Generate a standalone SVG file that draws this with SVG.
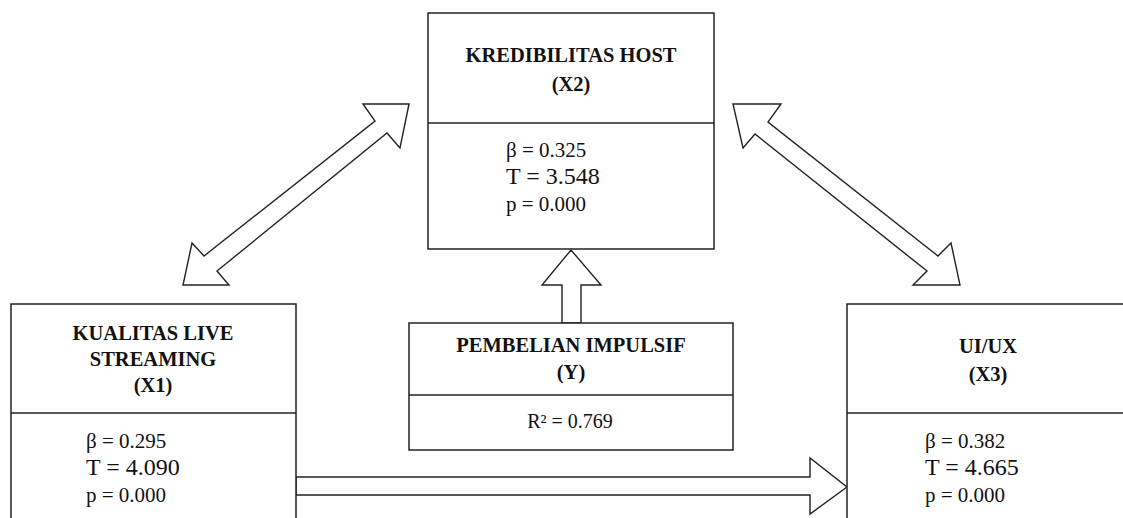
<svg xmlns="http://www.w3.org/2000/svg" width="1123" height="518" viewBox="0 0 1123 518">
<style>
.box{fill:#fff;stroke:#222;stroke-width:1.5}
.div{stroke:#222;stroke-width:1.5}
.arr{fill:#fff;stroke:#222;stroke-width:1.4;stroke-linejoin:miter}
.t{font-family:"Liberation Serif","Times New Roman",serif;font-weight:bold;font-size:20.5px;fill:#111;text-anchor:middle}
.v{font-family:"Liberation Serif","Times New Roman",serif;font-size:21px;fill:#111}
.vt{font-family:"Liberation Serif","Times New Roman",serif;font-size:24px;fill:#111}
</style>
<rect width="1123" height="518" fill="#fff"/>
<g id="connectors">
<polygon class="arr" points="409,104 400,148 387,133 217,271 229,285 183,285 192,243 204,256 375,121 363,104"/>
<polygon class="arr" points="733,104 781,104 768,122 938,256 951,243 960,285 913,285 927,271 755,134 743,148"/>
<polygon class="arr" points="562,323 562,285 542,285 571,250 601,285 581,285 581,323"/>
<polygon class="arr" points="296,477 810,477 810,458 847,487 810,514 810,495 296,495"/>
</g>
<g id="X2">
<rect class="box" x="428" y="13" width="286" height="236"/>
<line class="div" x1="428" y1="123" x2="714" y2="123"/>
<text class="t" x="571" y="62">KREDIBILITAS HOST</text>
<text class="t" x="571" y="91">(X2)</text>
<text class="v" x="506" y="157">β = 0.325</text>
<text class="vt" x="506" y="184">T = 3.548</text>
<text class="v" x="506" y="211">p = 0.000</text>
</g>
<g id="X1">
<rect class="box" x="11" y="304" width="285" height="230"/>
<line class="div" x1="11" y1="413" x2="296" y2="413"/>
<text class="t" x="153" y="340">KUALITAS LIVE</text>
<text class="t" x="153" y="366">STREAMING</text>
<text class="t" x="153" y="392">(X1)</text>
<text class="v" x="86" y="448">β = 0.295</text>
<text class="vt" x="86" y="475">T = 4.090</text>
<text class="v" x="86" y="502">p = 0.000</text>
</g>
<g id="Y">
<rect class="box" x="409" y="323" width="324" height="127"/>
<line class="div" x1="409" y1="395" x2="733" y2="395"/>
<text class="t" x="571" y="352">PEMBELIAN IMPULSIF</text>
<text class="t" x="571" y="379">(Y)</text>
<text class="v" x="570" y="428" text-anchor="middle" style="font-size:20px">R² = 0.769</text>
</g>
<g id="X3">
<rect class="box" x="847" y="304" width="290" height="230"/>
<line class="div" x1="847" y1="413" x2="1137" y2="413"/>
<text class="t" x="988" y="353">UI/UX</text>
<text class="t" x="988" y="381">(X3)</text>
<text class="v" x="925" y="448">β = 0.382</text>
<text class="vt" x="925" y="475">T = 4.665</text>
<text class="v" x="925" y="502">p = 0.000</text>
</g>
</svg>
